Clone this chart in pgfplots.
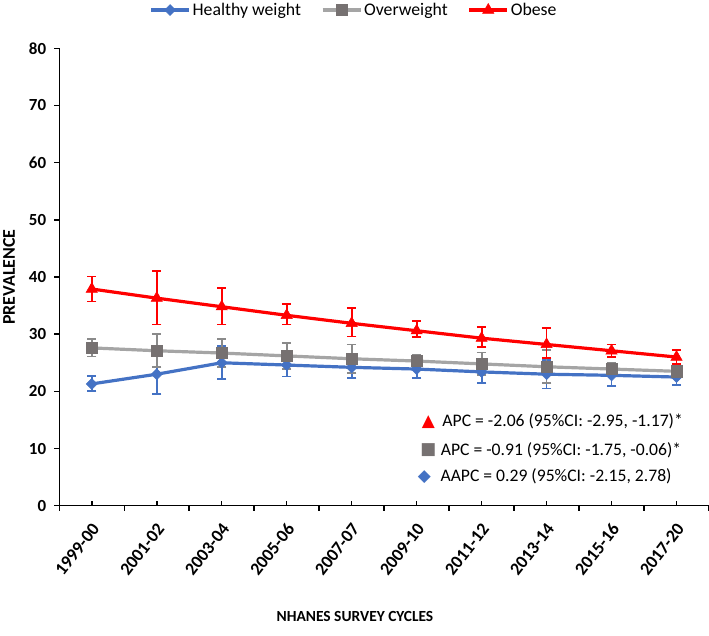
\documentclass[border=0pt]{standalone}
\usepackage{pgfplots}
\pgfplotsset{compat=1.18}
\usepackage{fontspec}
\setmainfont{Carlito}
\newfontfamily\symfont{DejaVu Sans}
\definecolor{hw}{HTML}{4472C4}
\definecolor{owl}{HTML}{A5A5A5}
\definecolor{owm}{HTML}{767171}
\definecolor{owe}{HTML}{8A8A8A}
\definecolor{ob}{HTML}{FF0000}
\begin{document}
\begin{tikzpicture}
\useasboundingbox (0,0) rectangle (709bp,636bp);
\begin{axis}[
  at={(59.3bp,130.3bp)}, anchor=south west,
  scale only axis, width=649.7bp, height=457.4bp,
  xmin=-0.5, xmax=9.5, ymin=0, ymax=80,
  axis lines=left,
  axis line style={-, line width=1.5bp, black},
  xtick={0,...,9},
  xticklabels={1999-00,2001-02,2003-04,2005-06,2007-07,2009-10,2011-12,2013-14,2015-16,2017-20},
  extra x ticks={-0.5,0.5,...,9.5},
  extra x tick labels={},
  extra x tick style={xtick align=outside, major tick length=5bp},
  xtick align=inside,
  ytick={0,10,...,80},
  ytick align=outside,
  major tick length=5bp,
  tick style={line width=1.5bp, black},
  /pgf/number format/assume math mode=true,
  ticklabel style={font=\bfseries\fontsize{17}{19}\selectfont},
  yticklabel style={inner sep=0pt, xshift=-8bp},
  xticklabel style={anchor=east, inner sep=0pt, xshift=4bp, yshift=-20bp, rotate=52, font=\bfseries\fontsize{18}{20}\selectfont},
  ylabel={PREVALENCE},
  ylabel style={at={(axis description cs:-0.0774,0.5)}, anchor=center, rotate=0, font=\bfseries\fontsize{18}{20}\selectfont},
  xlabel={NHANES SURVEY CYCLES},
  xlabel style={at={(axis description cs:0.455,-0.2433)}, anchor=center, font=\bfseries\fontsize{15.5}{18}\selectfont},
  legend columns=3,
  legend style={at={(axis description cs:0.4536,1.0837)}, anchor=center, draw=none, fill=none,
    font=\fontsize{17.8}{19}\selectfont, /tikz/every even column/.append style={column sep=18bp}},
  legend image code/.code={\draw[mark repeat=2,mark phase=2] plot coordinates {(0bp,0bp) (19bp,0bp) (38bp,0bp)};},
  clip=false,
]
% Healthy weight
\addplot[color=hw, line width=3.2bp, mark=square*, mark size=3.9bp, mark options={fill=hw, draw=hw, rotate=45, line width=0.5bp},
  error bars/.cd, y dir=both, y explicit,
  error bar style={line width=1.8bp, color=hw},
  error mark options={line width=1.8bp, color=hw, mark size=4.7bp, rotate=90}]
coordinates {
 (0,21.3) += (0,1.4) -= (0,1.3)
 (1,23.0) += (0,3.5) -= (0,3.5)
 (2,25.0) += (0,2.9) -= (0,2.9)
 (3,24.6) += (0,2.0) -= (0,2.0)
 (4,24.2) += (0,1.9) -= (0,1.9)
 (5,23.9) += (0,1.5) -= (0,1.5)
 (6,23.4) += (0,2.0) -= (0,2.0)
 (7,23.0) += (0,2.5) -= (0,2.5)
 (8,22.8) += (0,2.0) -= (0,1.9)
 (9,22.5) += (0,1.5) -= (0,1.4)
};
\addlegendentry{Healthy weight}
% Overweight
\addplot[color=owl, line width=3.2bp, mark=square*, mark size=5.6bp, mark options={fill=owm, draw=owm, line width=0.5bp},
  error bars/.cd, y dir=both, y explicit,
  error bar style={line width=1.8bp, color=owe},
  error mark options={line width=1.8bp, color=owe, mark size=4.7bp, rotate=90}]
coordinates {
 (0,27.6) += (0,1.6) -= (0,1.5)
 (1,27.1) += (0,2.9) -= (0,2.8)
 (2,26.7) += (0,2.5) -= (0,2.5)
 (3,26.2) += (0,2.3) -= (0,2.3)
 (4,25.7) += (0,2.5) -= (0,2.5)
 (5,25.3) += (0,1.0) -= (0,1.0)
 (6,24.8) += (0,2.0) -= (0,2.0)
 (7,24.3) += (0,3.0) -= (0,2.9)
 (8,23.9) += (0,1.0) -= (0,1.0)
 (9,23.5) += (0,0.8) -= (0,0.8)
};
\addlegendentry{Overweight}
% Obese
\addplot[color=ob, line width=3.2bp, mark=triangle*, mark size=6.5bp, mark options={fill=ob, draw=ob, line width=0.5bp},
  error bars/.cd, y dir=both, y explicit,
  error bar style={line width=1.8bp, color=ob},
  error mark options={line width=1.8bp, color=ob, mark size=4.7bp, rotate=90}]
coordinates {
 (0,37.9) += (0,2.2) -= (0,2.2)
 (1,36.3) += (0,4.7) -= (0,4.6)
 (2,34.8) += (0,3.3) -= (0,3.1)
 (3,33.3) += (0,2.0) -= (0,1.6)
 (4,31.9) += (0,2.7) -= (0,2.3)
 (5,30.6) += (0,1.7) -= (0,1.1)
 (6,29.3) += (0,1.9) -= (0,1.5)
 (7,28.2) += (0,2.9) -= (0,2.4)
 (8,27.1) += (0,1.1) -= (0,1.1)
 (9,26.0) += (0,1.3) -= (0,1.2)
};
\addlegendentry{Obese}
% annotations
\node[text=ob, font=\symfont\fontsize{17}{17}\selectfont, inner sep=0pt] at (axis cs:5.18,14.69) {▲};
\node[text=owm, font=\symfont\fontsize{17}{17}\selectfont, inner sep=0pt] at (axis cs:5.18,9.74) {■};
\node[text=hw, font=\symfont\fontsize{17}{17}\selectfont, inner sep=0pt] at (axis cs:5.12,5.07) {◆};
\node[anchor=west, inner sep=0pt, font=\fontsize{17.7}{20}\selectfont] at (axis cs:5.395,14.69) {APC = -2.06 (95\%CI: -2.95, -1.17)*};
\node[anchor=west, inner sep=0pt, font=\fontsize{17.7}{20}\selectfont] at (axis cs:5.37,9.74) {APC = -0.91 (95\%CI: -1.75, -0.06)*};
\node[anchor=west, inner sep=0pt, font=\fontsize{17.7}{20}\selectfont] at (axis cs:5.365,5.07) {AAPC = 0.29 (95\%CI: -2.15, 2.78)};
\end{axis}
\end{tikzpicture}
\end{document}
